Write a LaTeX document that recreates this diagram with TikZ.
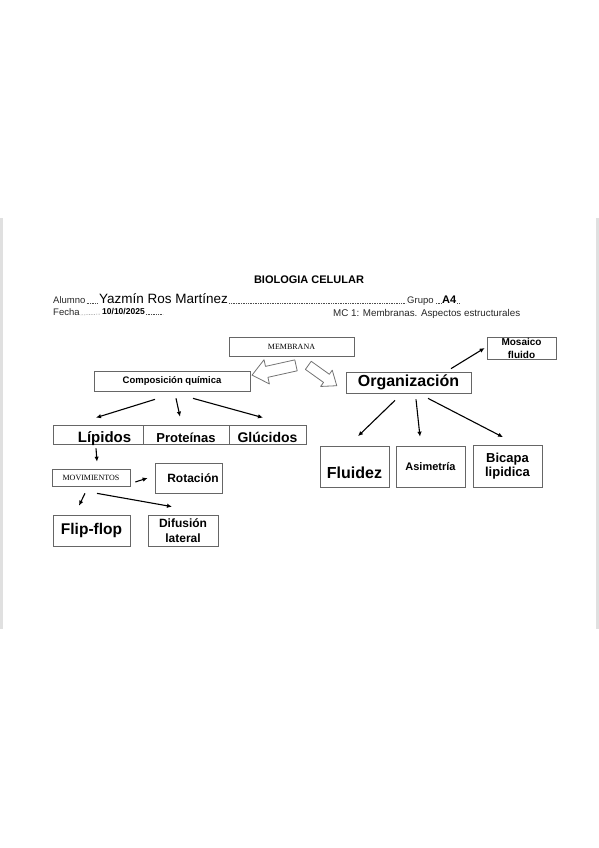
\documentclass[tikz,border=0pt]{standalone}
\usepackage{fontspec}
\setmainfont{Liberation Sans}
\newfontfamily\romanfont{Liberation Serif}
\usetikzlibrary{arrows.meta,calc}
\newcommand{\fsz}[2]{\fontsize{#1}{#2}\selectfont}

\begin{document}
\begin{tikzpicture}[
  x=1pt,y=-1pt,
  >=Latex,
  every node/.style={inner sep=0pt,align=center},
  box/.style={draw=black!60,line width=0.7pt,font=\bfseries},
  flow/.style={-{Latex[length=5pt,width=4.5pt]},line width=1.1pt},
  hollow/.style={draw=black!55,line width=0.8pt,fill=white,line join=round},
  fill line/.style={line width=0.5pt,dash pattern=on 0.5pt off 1.2pt,draw=black!70},
  head/.style={font=\fsz{9.5}{11},text=black!85,anchor=base west},
  rowbox/.style={box,minimum height=19,text height=15pt,text depth=0pt}
]
  \useasboundingbox (0,0) rectangle (599,848);
  % page edges
  \fill[black!12] (0,218) rectangle (3,629);
  \fill[black!12] (596,218) rectangle (599,629);

  % header
  \node[font=\bfseries\fsz{11}{13},anchor=base] (title) at (309,283) {BIOLOGIA CELULAR};
  \node[head] (alumno) at (53,303) {Alumno};
  \node[anchor=base west,font=\fsz{13.5}{16}] (nombre) at (99,303) {Yazmín Ros Martínez};
  \node[head] (grupo) at (407,303) {Grupo};
  \node[anchor=base west,font=\bfseries\fsz{11}{13}] (grupoval) at (442,303) {A4};
  \node[head] (fecha) at (53,315) {Fecha};
  \node[anchor=base west,font=\bfseries\fsz{8.5}{10}] (fechaval) at (102,314) {10/10/2025};
  \node[head,font=\fsz{9.8}{11}] (tema) at (333,316) {MC 1: Membranas. Aspectos estructurales};
  \draw[fill line] ([xshift=1pt]alumno.base east) -- ([xshift=-1pt]nombre.base west);
  \draw[fill line] ([xshift=1pt]nombre.base east) -- ([xshift=-1pt]grupo.base west);
  \draw[fill line] ([xshift=2pt]grupo.base east) -- ([xshift=-1pt]grupoval.base west);
  \draw[fill line] ([xshift=1pt]grupoval.base east) -- ([xshift=4pt]grupoval.base east);
  \draw[fill line] ([xshift=1pt]fecha.base east) -- ([xshift=-1pt]fechaval.base west);
  \draw[fill line] ([xshift=1pt]fechaval.base east) -- ([xshift=18pt]fechaval.base east);

  % boxes
  \node[box,font=\romanfont\fsz{8}{10},minimum width=125,minimum height=19] (memb) at (291.5,346.5) {MEMBRANA};
  \node[box,font=\bfseries\fsz{9.5}{11},minimum width=156,minimum height=20] (comp) at (172,381) {Composición química};
  \node[box,font=\bfseries\fsz{16}{18},minimum width=125,minimum height=21] (org) at (408.5,382.5) {Organización};
  \node[box,font=\bfseries\fsz{10}{13},minimum width=69,minimum height=22] (mos) at (521.5,348) {Mosaico\\fluido};

  \node[rowbox,font=\bfseries\fsz{15}{17},minimum width=90] (lip) at (98,434.5) {\hspace*{13pt}Lípidos};
  \node[rowbox,font=\bfseries\fsz{13}{15},minimum width=86] (prot) at (186,434.5) {Proteínas};
  \node[rowbox,font=\bfseries\fsz{14}{16},minimum width=77] (gluc) at (267.5,434.5) {Glúcidos};

  \node[box,font=\romanfont\fsz{8}{10},minimum width=78,minimum height=17] (mov) at (91,477.5) {MOVIMIENTOS};
  \node[box,font=\bfseries\fsz{12}{14},minimum width=67,minimum height=30] (rot) at (188.5,478) {\hspace*{9pt}Rotación};
  \node[box,font=\bfseries\fsz{15.5}{18},minimum width=77,minimum height=31] (flip) at (91.5,530.5) {Flip-flop};
  \node[box,font=\bfseries\fsz{12}{15},minimum width=70,minimum height=31] (dif) at (183,530.5) {Difusión\\lateral};

  \node[box,font=\bfseries\fsz{16}{18},minimum width=69,minimum height=41,text height=22pt,text depth=0pt] (flu) at (354.5,467) {Fluidez};
  \node[box,font=\bfseries\fsz{11}{13},minimum width=69,minimum height=41] (asi) at (430.5,466.5) {Asimetría};
  \node[box,font=\bfseries\fsz{13}{14},minimum width=69,minimum height=42] (bic) at (507.5,466.5) {Bicapa\\lipidica};

  % hollow arrows from MEMBRANA
  \draw[hollow,shift={($(memb.south)+(4.5,9)$)},rotate=192.5]
    (0,-5.6) -- (30,-5.6) -- (30,-12.4) -- (45,0) -- (30,12.4) -- (30,5.6) -- (0,5.6) -- cycle;
  \draw[hollow,shift={($(memb.south)+(16.8,9)$)},rotate=-35.6]
    (0,-5) -- (22.3,-5) -- (22.3,-10) -- (35,0) -- (22.3,10) -- (22.3,5) -- (0,5) -- cycle;

  % connectors
  \draw[flow] ([shift={(-17,8)}]comp.south) -- ([shift={(-2,-7)}]lip.north);
  \draw[flow] ([shift={(4,7)}]comp.south) -- ([shift={(-6,-8)}]prot.north);
  \draw[flow] ([shift={(21,7)}]comp.south) -- ([shift={(-4.5,-7)}]gluc.north);
  \draw[flow] ([shift={(-13.5,7)}]org.south) -- ([shift={(3.5,-10)}]flu.north);
  \draw[flow] ([shift={(7.5,6)}]org.south) -- ([shift={(-10.5,-9)}]asi.north);
  \draw[flow] ([shift={(19.5,5)}]org.south) -- ([shift={(-4.5,-8)}]bic.north);
  \draw[flow] ([shift={(42.5,-3)}]org.north) -- ([shift={(-2,0)}]mos.west);
  \draw[flow] ([shift={(-2,4)}]lip.south) -- ([shift={(6,-7)}]mov.north);
  \draw[flow] ([shift={(5,4.5)}]mov.east) -- ([shift={(-7,0)}]rot.west);
  \draw[flow] ([shift={(-6,7)}]mov.south) -- ([shift={(-12.5,-9)}]flip.north);
  \draw[flow] ([shift={(6,7)}]mov.south) -- ([shift={(-11,-8)}]dif.north);
\end{tikzpicture}
\end{document}
